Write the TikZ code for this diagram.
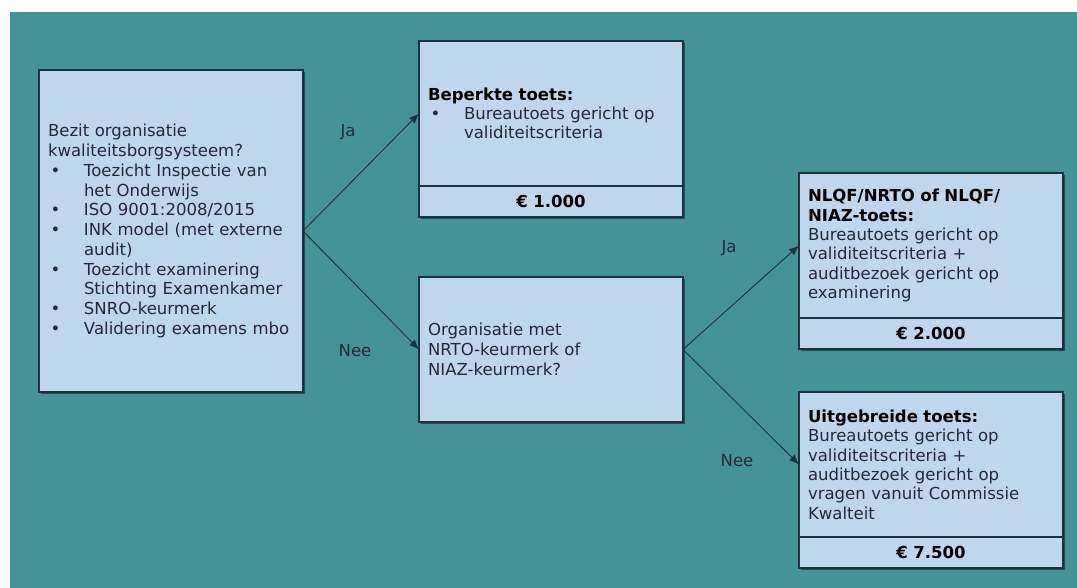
\documentclass[tikz,border=0pt]{standalone}
\usepackage{fontspec}
\setmainfont{DejaVu Sans}
\usetikzlibrary{positioning,arrows.meta,shadows}

\definecolor{bgteal}{RGB}{70,146,153}
\definecolor{boxfill}{RGB}{190,215,237}
\definecolor{boxline}{RGB}{28,50,64}
\definecolor{txtdark}{RGB}{38,40,58}

\newcommand{\blt}{\hspace*{2pt}\makebox[25pt][l]{\textbullet}}
\newcommand{\ind}{\hspace*{27pt}}

\tikzset{
  box/.style={
    rectangle,
    draw=boxline,
    line width=0.9pt,
    fill=boxfill,
    outer sep=0pt,
    drop shadow={shadow xshift=1.8pt, shadow yshift=-1.8pt, fill=black, opacity=0.45},
    minimum width=198pt,
    minimum height=108.75pt,
    inner xsep=6.75pt,
    text width=184.5pt,
    align=left,
    text=txtdark,
    font=\fontsize{12.4}{14.5}\selectfont
  },
  pricebox/.style={
    box,
    minimum height=23.25pt,
    inner ysep=0pt,
    align=center,
    text=black,
    font=\fontsize{12.4}{14.5}\selectfont\bfseries
  },
  lbl/.style={
    text=txtdark,
    font=\fontsize{12.4}{14.5}\selectfont
  },
  arr/.style={
    -{Latex[length=7.5pt,width=6pt]},
    line width=0.7pt,
    draw=boxline
  }
}

\begin{document}
\begin{tikzpicture}[x=0.75pt, y=-0.75pt]
  \useasboundingbox (0,0) rectangle (1077,588);
  \fill[bgteal] (10,12) rectangle (1077,588);

  \node[box, anchor=north west, minimum height=241.5pt,
    font=\fontsize{12.4}{14.8}\selectfont] (vraag1) at (39,70) {Bezit organisatie\\
    kwaliteitsborgsysteem?\\
    \blt Toezicht Inspectie van\\
    \ind het Onderwijs\\
    \blt ISO 9001:2008/2015\\
    \blt INK model (met externe\\
    \ind audit)\\
    \blt Toezicht examinering\\
    \ind Stichting Examenkamer\\
    \blt SNRO-keurmerk\\
    \blt Validering examens mbo};

  \node[box, anchor=north west] (toets1) at (419,41) {\textbf{\color{black}Beperkte toets:}\\
    \blt Bureautoets gericht op\\
    \ind validiteitscriteria};
  \node[pricebox, below=0pt of toets1] (prijs1) {€ 1.000};

  \node[box, anchor=north west, font=\fontsize{12.4}{15}\selectfont] (vraag2) at (419,277) {Organisatie met\\
    NRTO-keurmerk of\\
    NIAZ-keurmerk?};

  \node[box, anchor=north west] (toets2) at (799,173) {\textbf{\color{black}NLQF/NRTO of NLQF/}\\
    \textbf{\color{black}NIAZ-toets:}\\
    Bureautoets gericht op\\
    validiteitscriteria +\\
    auditbezoek gericht op\\
    examinering};
  \node[pricebox, below=0pt of toets2] (prijs2) {€ 2.000};

  \node[box, anchor=north west] (toets3) at (799,392) {\textbf{\color{black}Uitgebreide toets:}\\
    Bureautoets gericht op\\
    validiteitscriteria +\\
    auditbezoek gericht op\\
    vragen vanuit Commissie\\
    Kwalteit};
  \node[pricebox, below=0pt of toets3] (prijs3) {€ 7.500};

  \draw[arr] (vraag1.east) -- (toets1.west);
  \draw[arr] (vraag1.east) -- (vraag2.west);
  \draw[arr] (vraag2.east) -- (toets2.west);
  \draw[arr] (vraag2.east) -- (toets3.west);

  \node[lbl] (ja1) at (348,132) {Ja};
  \node[lbl] (nee1) at (355,351) {Nee};
  \node[lbl] (ja2) at (729,248) {Ja};
  \node[lbl] (nee2) at (737,461) {Nee};
\end{tikzpicture}
\end{document}
